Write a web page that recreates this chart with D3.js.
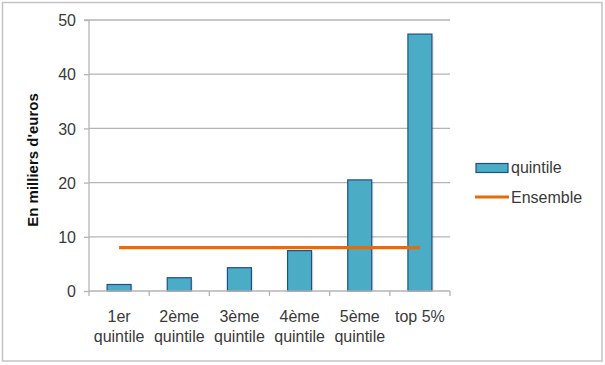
<!DOCTYPE html>
<html><head><meta charset="utf-8">
<script src="https://cdn.jsdelivr.net/npm/d3@7"></script>
<style>body{margin:0;background:#fff}svg{display:block}text{font-family:"Liberation Sans",Arial,sans-serif}</style>
</head><body>
<svg id="c" width="605" height="365"></svg>
<script>
const categories = [["1er","quintile"],["2ème","quintile"],["3ème","quintile"],["4ème","quintile"],["5ème","quintile"],["top 5%"]];
const quintileValues = [1.2, 2.45, 4.3, 7.45, 20.5, 47.4];
const ensembleValue = 8.0;
const yTicks = [0, 10, 20, 30, 40, 50];
const seriesNames = ["quintile", "Ensemble"];
const yTitle = "En milliers d'euros";

(function(){
const svg = d3.select("#c");
const grid = "#b4b4b4", txt = "#3a3a3a";
const barFill = "#4bacc6", barStroke = "#1f4e8c", lineCol = "#e46c0a";

svg.append("rect").attr("x",2.5).attr("y",2.5).attr("width",599.5).attr("height",358.5)
  .attr("fill","#fff").attr("stroke","#c3c3c3").attr("stroke-width",1.5);

const pL = 89, pR = 450, pT = 20, pB = 291;
const ids = categories.map((d,i)=>i);
const x = d3.scaleBand().domain(ids).range([pL,pR]).paddingInner(0).paddingOuter(0);
const y = d3.scaleLinear().domain([0,50]).range([pB,pT]);

svg.append("g").selectAll("line").data(yTicks.filter(t=>t>0)).join("line")
  .attr("x1",pL).attr("x2",pR).attr("y1",d=>y(d)).attr("y2",d=>y(d))
  .attr("stroke",grid).attr("stroke-width",1.3);

const ya = svg.append("g").attr("transform",`translate(${pL},0)`)
  .call(d3.axisLeft(y).tickValues(yTicks).tickSize(5).tickPadding(8));
ya.select(".domain").attr("stroke",grid).attr("stroke-width",1.3).attr("d",`M-5,${pT}H0V${pB}`);
ya.selectAll(".tick line").attr("stroke",grid).attr("stroke-width",1.3);
ya.selectAll(".tick text").attr("fill",txt).style("font-size","16px").attr("dy","0.35em");

const bw = 24;
svg.append("g").selectAll("rect").data(quintileValues).join("rect")
  .attr("x",(d,i)=>x(i)+x.bandwidth()/2-bw/2+2).attr("y",d=>y(d)+2)
  .attr("width",bw).attr("height",d=>pB-y(d)-2).attr("fill","#000").attr("opacity",0.08);
svg.append("g").selectAll("rect").data(quintileValues).join("rect")
  .attr("x",(d,i)=>x(i)+x.bandwidth()/2-bw/2).attr("y",d=>y(d))
  .attr("width",bw).attr("height",d=>pB-y(d))
  .attr("fill",barFill).attr("stroke",barStroke).attr("stroke-width",1.2);

const xa = svg.append("g").attr("transform",`translate(0,${pB})`);
xa.append("line").attr("x1",pL).attr("x2",pR).attr("stroke",grid).attr("stroke-width",1.3);
xa.selectAll("line.t").data(d3.range(categories.length+1)).join("line").attr("class","t")
  .attr("x1",i=>pL+i*x.bandwidth()).attr("x2",i=>pL+i*x.bandwidth())
  .attr("y1",0).attr("y2",5).attr("stroke",grid).attr("stroke-width",1.3);
const xl = svg.append("g").selectAll("text").data(categories).join("text")
  .attr("text-anchor","middle").attr("fill",txt).style("font-size","16px")
  .attr("transform",(d,i)=>`translate(${x(i)+x.bandwidth()/2},322)`);
xl.selectAll("tspan").data(d=>d).join("tspan").attr("x",0).attr("y",(d,j)=>j*20).text(d=>d);

const line = d3.line().x(d=>x(d)+x.bandwidth()/2).y(()=>y(ensembleValue));
svg.append("path").datum([0, categories.length-1]).attr("d",line)
  .attr("fill","none").attr("stroke",lineCol).attr("stroke-width",3.2);

svg.append("text").attr("transform","translate(38,160) rotate(-90)").attr("text-anchor","middle")
  .attr("fill","#111").style("font-size","15px").style("font-weight","bold").text(yTitle);

const lg = svg.append("g");
lg.append("rect").attr("x",476).attr("y",163.5).attr("width",32).attr("height",9)
  .attr("fill",barFill).attr("stroke",barStroke).attr("stroke-width",1.2);
lg.append("line").attr("x1",475).attr("x2",509).attr("y1",197).attr("y2",197)
  .attr("stroke",lineCol).attr("stroke-width",3.2);
lg.selectAll("text").data(seriesNames).join("text").attr("x",511).attr("y",(d,i)=>173+i*30)
  .attr("fill",txt).style("font-size","16px").text(d=>d);
})();
</script>
</body></html>
